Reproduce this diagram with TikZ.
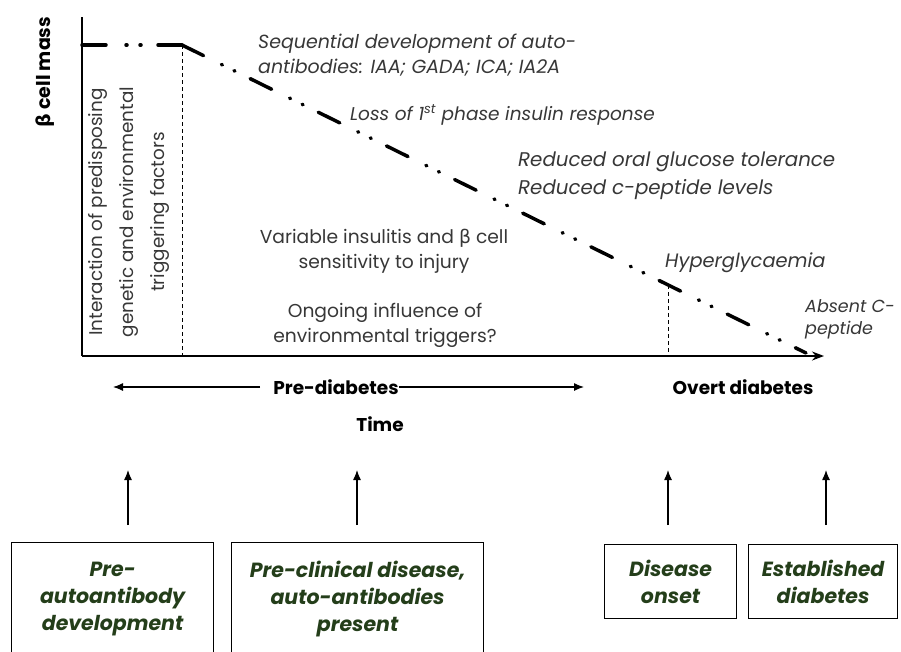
\documentclass[tikz,border=0pt]{standalone}
\usepackage{fontspec}
\setmainfont{Poppins}
\newfontfamily\grk{DejaVu Sans}
\usetikzlibrary{arrows.meta, positioning, calc}
\definecolor{boxgreen}{RGB}{36,62,26}
\definecolor{textgrey}{RGB}{55,55,55}

\begin{document}
\begin{tikzpicture}[
    x=1pt, y=-1pt,
    note/.style={font=\fontsize{19}{25}\selectfont\itshape, text=textgrey, align=left, inner sep=0pt},
    plaintext/.style={font=\fontsize{18.7}{25}\selectfont, text=textgrey, align=center, inner sep=0pt},
    phase/.style={font=\fontsize{18.5}{22}\selectfont\bfseries, inner sep=0pt},
    stagebox/.style={rectangle, draw, line width=1.2pt, font=\fontsize{20.5}{27}\selectfont\bfseries\itshape, text=boxgreen, align=center, anchor=north west, inner sep=0pt},
    axisline/.style={line width=1.5pt},
    betacurve/.style={line width=3.5pt, dash pattern=on 24pt off 20pt on 1pt off 13pt on 1pt off 17pt, line cap=round, line join=round},
    guide/.style={line width=1pt, dash pattern=on 4pt off 3pt},
    uparrow/.style={-{Latex[length=10pt, width=8pt]}, line width=1.2pt},
    spanarrow/.style={-{Latex[length=10pt, width=8pt]}, line width=1.2pt}
]
\clip (0,0) rectangle (901,651);

% Axes
\coordinate (origin) at (82,356);
\coordinate (ytop) at (82,17);
\coordinate (xend) at (824,356);
\draw[axisline] (ytop) -- (origin);
\draw[axisline, -{Stealth[length=12pt, width=9pt]}] (origin) -- (xend);
\node[font=\fontsize{19}{22}\selectfont\bfseries, rotate=90, inner sep=0pt] (ylabel) at (45,72) {{\grk β} cell mass};

% Beta cell mass curve
\coordinate (start) at (82,45);
\coordinate (knee) at (182,45);
\coordinate (absent) at (806,353);
\coordinate (hyper) at ($(knee)!0.78!(absent)$);
\draw[betacurve] (start) -- (knee);
\draw[betacurve] (knee) -- (absent);
\draw[guide] (knee) -- (knee |- origin);
\draw[guide] (hyper) -- (hyper |- origin);

% Labels along the curve
\node[plaintext, rotate=90, font=\fontsize{18.4}{31}\selectfont] (interaction) at (129,212) {Interaction of predisposing\\genetic and environmental\\triggering factors};
\node[note, anchor=west] (autoab) at (258,55) {Sequential development of auto-\\antibodies: IAA; GADA; ICA; IA2A};
\node[note, anchor=west, font=\fontsize{18.5}{25}\selectfont\itshape] (firstphase) at (350,115) {Loss of 1\textsuperscript{st} phase insulin response};
\node[note, anchor=west, font=\fontsize{19.8}{28}\selectfont\itshape] (reduced) at (518,176) {Reduced oral glucose tolerance\\Reduced c-peptide levels};
\node[plaintext] (insulitis) at (384,251) {Variable insulitis and {\grk β} cell\\sensitivity to injury};
\node[plaintext] (ongoing) at (385,325) {Ongoing influence of\\environmental triggers?};
\node[note, anchor=west, font=\fontsize{19.4}{25}\selectfont\itshape] (hyperlabel) at (665,263) {Hyperglycaemia};
\node[note, anchor=west, font=\fontsize{17.5}{22}\selectfont\itshape] (absentlabel) at (805,319) {Absent C-\\peptide};

% Time axis
\node[phase] (prediab) at (336,387) {Pre-diabetes};
\node[phase, below=22pt of prediab.south, anchor=north, xshift=44pt] (time) {Time};
\node[phase] (overt) at (743,387) {Overt diabetes};
\coordinate (leftend) at (113,387);
\coordinate (rightend) at (584,387);
\draw[spanarrow] ([xshift=-13pt]prediab.west) -- (leftend);
\draw[spanarrow] (prediab.east) -- (rightend);

% Stages
\node[stagebox, minimum width=202pt, minimum height=112pt] (preab) at (11,542) {Pre-\\autoantibody\\development};
\node[stagebox, minimum width=252pt, minimum height=112pt] (preclin) at (231,542) {Pre-clinical disease,\\auto-antibodies\\present};
\node[stagebox, minimum width=132pt, minimum height=74pt] (onset) at (604,544) {Disease\\onset};
\node[stagebox, minimum width=149pt, minimum height=74pt] (established) at (748,544) {Established\\diabetes};

% Arrows up to the time line
\coordinate (tip1) at (128,470);
\coordinate (tip2) at (357,470);
\coordinate (tip3) at (668,470);
\coordinate (tip4) at (826,470);
\draw[uparrow] ([yshift=17pt]preab.north -| tip1) -- (tip1);
\draw[uparrow] ([yshift=17pt]preclin.north -| tip2) -- (tip2);
\draw[uparrow] ([yshift=19pt]onset.north -| tip3) -- (tip3);
\draw[uparrow] ([yshift=19pt]established.north -| tip4) -- (tip4);

\end{tikzpicture}
\end{document}
